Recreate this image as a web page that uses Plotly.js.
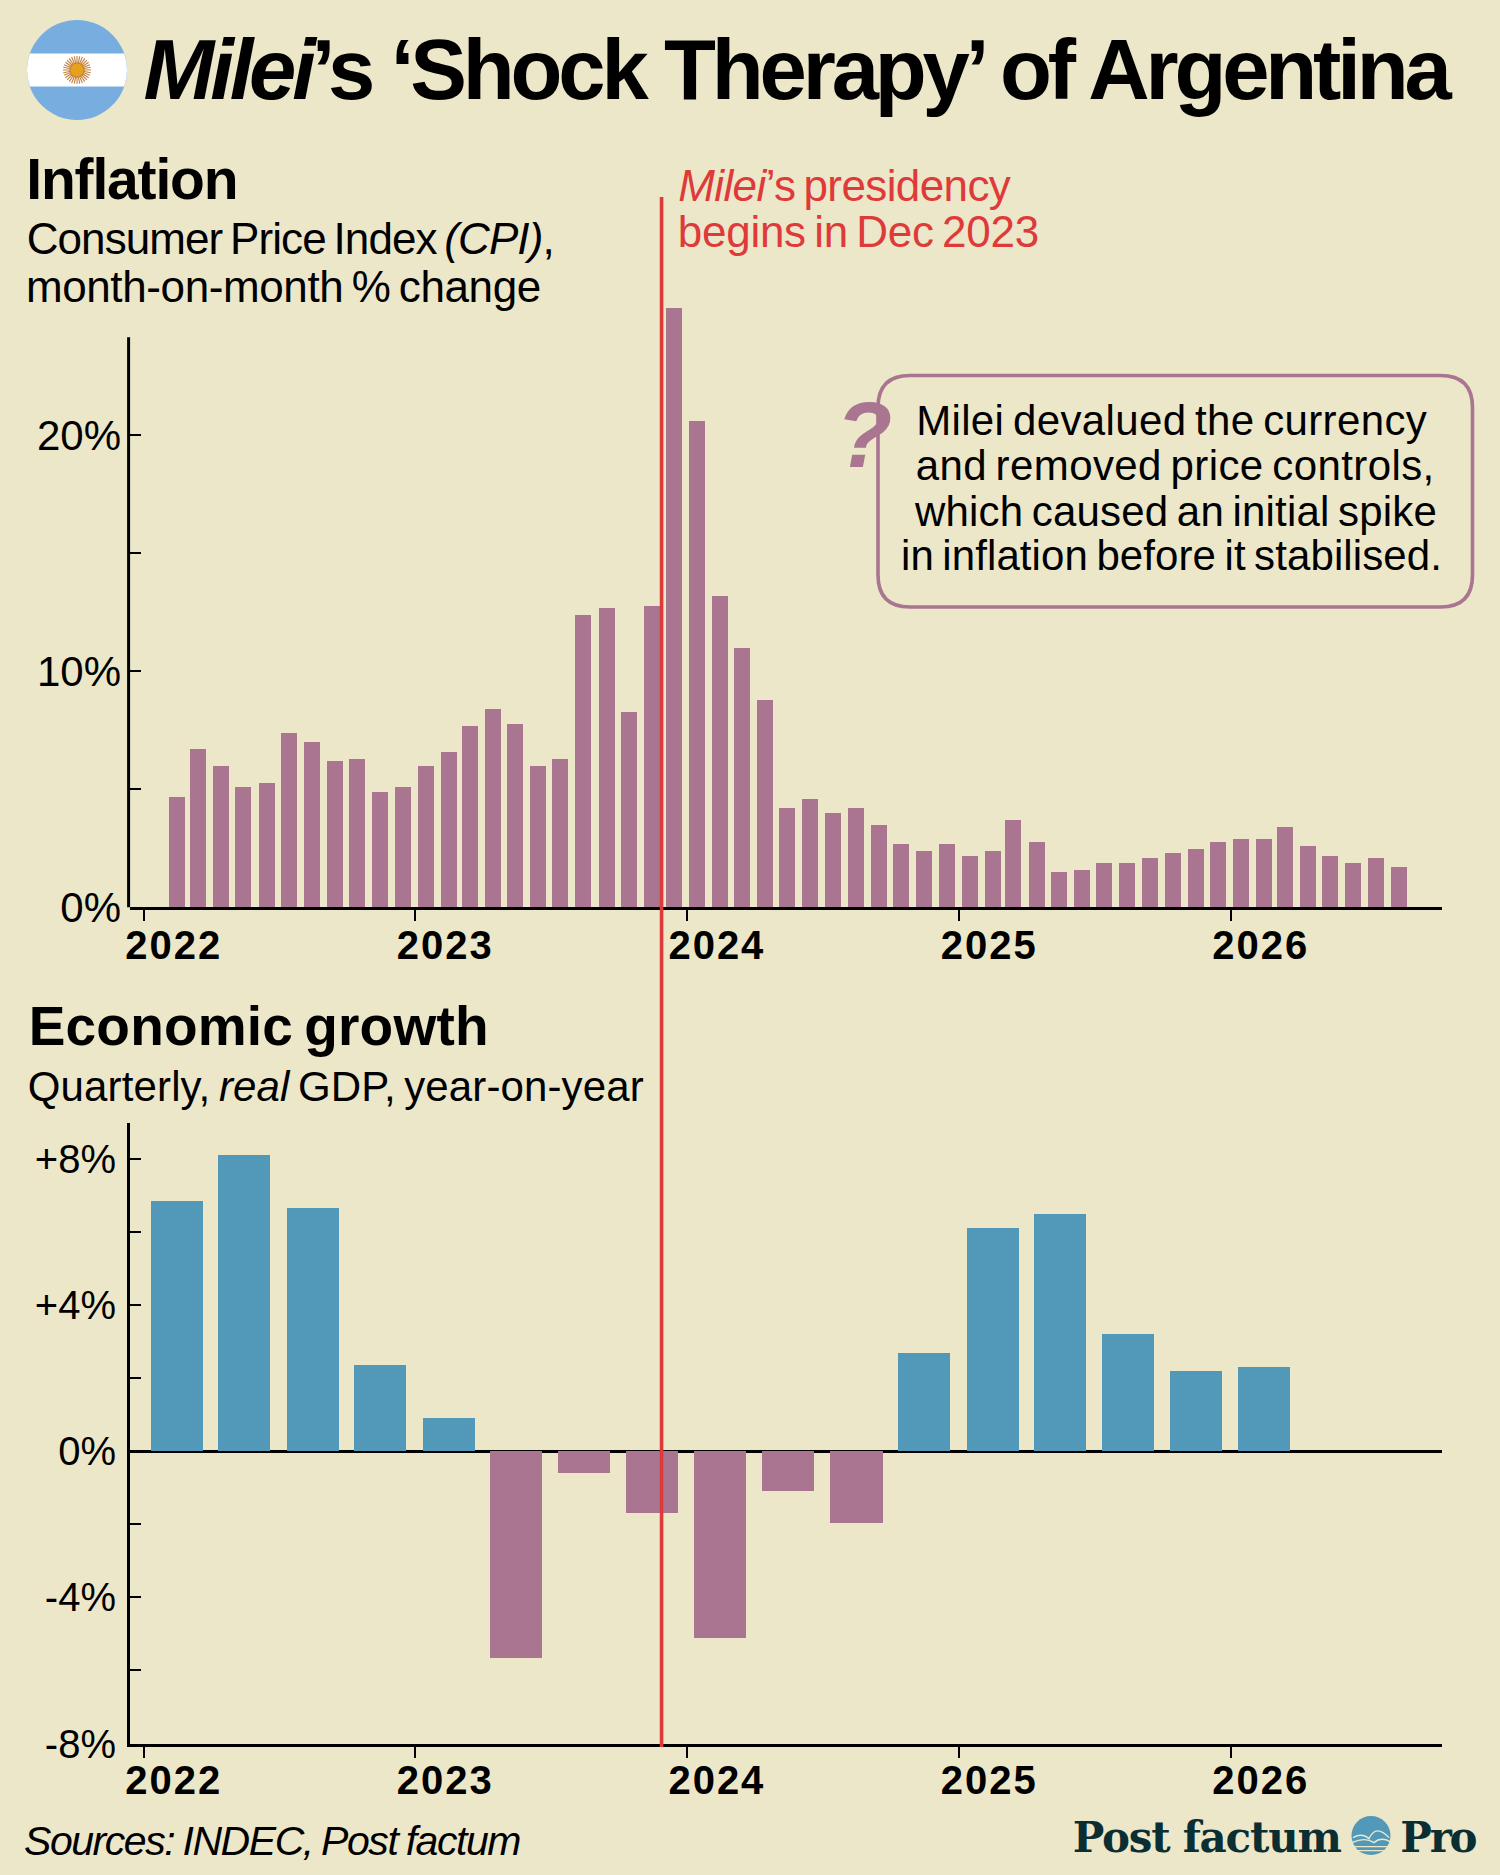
<!DOCTYPE html>
<html>
<head>
<meta charset="utf-8">
<script src="https://cdn.plot.ly/plotly-3.0.1.min.js"></script>
<style>
html,body{margin:0;padding:0;background:#ECE7C9;}
#chart{width:1500px;height:1875px;}
.xtick text,.x2tick text{letter-spacing:2px;}
</style>
</head>
<body>
<div id="chart"></div>
<script>
// ---------- data ----------
const inflationMonths = [
 '2022-02-15','2022-03-15','2022-04-15','2022-05-15','2022-06-15','2022-07-15','2022-08-15','2022-09-15','2022-10-15','2022-11-15','2022-12-15',
 '2023-01-15','2023-02-15','2023-03-15','2023-04-15','2023-05-15','2023-06-15','2023-07-15','2023-08-15','2023-09-15','2023-10-15','2023-11-15','2023-12-15',
 '2024-01-15','2024-02-15','2024-03-15','2024-04-15','2024-05-15','2024-06-15','2024-07-15','2024-08-15','2024-09-15','2024-10-15','2024-11-15','2024-12-15',
 '2025-01-15','2025-02-15','2025-03-15','2025-04-15','2025-05-15','2025-06-15','2025-07-15','2025-08-15','2025-09-15','2025-10-15','2025-11-15','2025-12-15',
 '2026-01-15','2026-02-15','2026-03-15','2026-04-15','2026-05-15','2026-06-15','2026-07-15','2026-08-15'];
const inflationValues = [
 4.7,6.7,6.0,5.1,5.3,7.4,7.0,6.2,6.3,4.9,5.1,
 6.0,6.6,7.7,8.4,7.8,6.0,6.3,12.4,12.7,8.3,12.8,25.4,
 20.6,13.2,11.0,8.8,4.2,4.6,4.0,4.2,3.5,2.7,2.4,2.7,
 2.2,2.4,3.7,2.8,1.5,1.6,1.9,1.9,2.1,2.3,2.5,2.8,
 2.9,2.9,3.4,2.6,2.2,1.9,2.1,1.7];
const gdpQuarters = [
 '2022-02-15','2022-05-16','2022-08-16','2022-11-15',
 '2023-02-15','2023-05-16','2023-08-16','2023-11-15',
 '2024-02-15','2024-05-16','2024-08-16','2024-11-15',
 '2025-02-15','2025-05-16','2025-08-16','2025-11-15',
 '2026-02-15'];
const gdpValues = [6.85,8.1,6.65,2.35,0.9,-5.65,-0.6,-1.7,-5.1,-1.1,-1.95,2.7,6.1,6.5,3.2,2.2,2.3];
const yearTicks = ['2022-01-01','2023-01-01','2024-01-01','2025-01-01','2026-01-01'];
const yearLabels = ['2022','2023','2024','2025','2026'];
const inflationTicks = [0,5,10,15,20];
const inflationTickLabels = ['0%','','10%','','20%'];
const gdpTicks = [-8,-6,-4,-2,0,2,4,6,8];
const gdpTickLabels = ['-8%','','-4%','','0%','','+4%','','+8%'];
const milieStart = '2023-11-28';

// ---------- style ----------
const BG='#ECE7C9', MAUVE='#A97590', BLUE='#5298B8', RED='#DF3A3A', INK='#000000', TEAL='#0B2E33';
const FONT='"Liberation Sans", Arial, sans-serif';
const W=1500,H=1875;
const X=p=>p/W, Y=p=>1-p/H;
const DAY=86400000;

// ---------- text placed by baseline, tracked to a target width ----------
const canvas=document.createElement('canvas').getContext('2d');
const annotations=[]; let css='';
function T(text,x,base,size,o={}){
  const plain=text.replace(/<[^>]+>/g,'');
  const weight=o.bold?'bold':'normal';
  const fam=o.family||FONT;
  let spacing=0, anchor=o.anchor||'left', ax=x;
  const ws=(o.ws===undefined?-0.08:o.ws)*size;
  if(o.width){
    canvas.font=`${weight} ${size}px ${fam}`;
    const spaces=(plain.match(/ /g)||[]).length;
    spacing=(o.width-canvas.measureText(plain).width-ws*spaces)/plain.length;
    // plotly centres the text inside a box measured without tracking, so anchor on the centre
    if(anchor==='left'){ax=x+o.width/2;anchor='center';}
  }
  const idx=annotations.length;
  css+=`.annotation[data-index="${idx}"] text{letter-spacing:${spacing.toFixed(3)}px;word-spacing:${ws.toFixed(2)}px;}\n`;
  annotations.push({
    text:text,xref:'paper',yref:'paper',x:X(ax),y:Y(base+(o.descent||0.212)*size+1),
    xanchor:anchor,yanchor:'bottom',showarrow:false,borderpad:0,
    font:{family:fam,size:size,color:o.color||INK,weight:o.bold?700:400}
  });
}
T('<i>Milei</i>’s ‘Shock Therapy’ of Argentina',140,99,85,{bold:true,width:1312,ws:0});
T('Inflation',26,199,57,{bold:true,width:211,ws:0});
T('Consumer Price Index <i>(CPI)</i>,',26,254,44,{width:527});
T('month-on-month % change',26,302,44,{width:515});
T('<i>Milei</i>’s presidency',678,201,44,{color:RED,width:332});
T('begins in Dec 2023',678,247,44,{color:RED,width:361});
T('Milei devalued the currency',1171.5,435,42,{anchor:'center',width:511});
T('and removed price controls,',1175,480,42,{anchor:'center',width:519});
T('which caused an initial spike',1175,526,42,{anchor:'center',width:522});
T('in inflation before it stabilised.',1171,570,42,{anchor:'center',width:541});
T('<b><i>?</i></b>',835,466,92,{bold:true,color:MAUVE,ws:0});
T('Economic growth',28,1045,55,{bold:true,width:460});
T('Quarterly, <i>real</i> GDP, year-on-year',28,1101.5,42,{width:616});
T('<i>Sources: INDEC, Post factum</i>',24,1855.5,41,{width:496,ws:-0.04});
const SERIF='"DejaVu Serif", serif';
T('Post factum',1072,1852,42,{bold:true,color:TEAL,family:SERIF,width:268,descent:0.236,ws:0});
T('Pro',1400.5,1852,42,{bold:true,color:TEAL,family:SERIF,width:75,descent:0.236,ws:0});
const st=document.createElement('style'); st.textContent=css; document.head.appendChild(st);

// ---------- decoration ----------
function path(pts){ // pixel pairs "x,y" mapped to paper fractions
  return pts.replace(/(-?[\d.]+),(-?[\d.]+)/g,(m,a,b)=>X(+a).toFixed(6)+','+Y(+b).toFixed(6));
}
const shapes=[];
function paperShape(s){return Object.assign({xref:'paper',yref:'paper',layer:'above'},s);}
// flag
const fx=77,fy=70,fr=50;
shapes.push(paperShape({type:'circle',x0:X(fx-fr),x1:X(fx+fr),y0:Y(fy+fr),y1:Y(fy-fr),fillcolor:'#78AEDF',line:{width:0}}));
shapes.push(paperShape({type:'path',path:path(`M ${fx-47.2},53.5 L ${fx+47.2},53.5 Q ${fx+52.8},${fy} ${fx+47.2},86.5 L ${fx-47.2},86.5 Q ${fx-52.8},${fy} ${fx-47.2},53.5 Z`),fillcolor:'#FFFFFF',line:{width:0}}));
let rays='';
for(let i=0;i<32;i++){const a=i*Math.PI/16;
  rays+=`M ${(fx+6*Math.cos(a)).toFixed(2)},${(fy+6*Math.sin(a)).toFixed(2)} L ${(fx+14*Math.cos(a)).toFixed(2)},${(fy+14*Math.sin(a)).toFixed(2)} `;}
shapes.push(paperShape({type:'path',path:path(rays),line:{color:'#C4803E',width:1.1}}));
shapes.push(paperShape({type:'circle',x0:X(fx-7),x1:X(fx+7),y0:Y(fy+7),y1:Y(fy-7),fillcolor:'#E8A11C',line:{color:'#B5782C',width:0.8}}));
// call-out box
const bx0=878,bx1=1472.5,by0=375.5,by1=607,br=32;
shapes.push(paperShape({type:'path',layer:'below',path:path(
 `M ${bx0+br},${by0} L ${bx1-br},${by0} Q ${bx1},${by0} ${bx1},${by0+br} L ${bx1},${by1-br} Q ${bx1},${by1} ${bx1-br},${by1} L ${bx0+br},${by1} Q ${bx0},${by1} ${bx0},${by1-br} L ${bx0},${by0+br} Q ${bx0},${by0} ${bx0+br},${by0} Z`),
 fillcolor:'rgba(0,0,0,0)',line:{color:MAUVE,width:3.6}}));
// inflation y-axis line stops below the tallest bar
shapes.push({type:'line',xref:'paper',yref:'y',x0:X(128.6),x1:X(128.6),y0:-0.06,y1:24.15,line:{color:INK,width:3},layer:'above'});
// presidency marker
shapes.push({type:'line',xref:'x',yref:'paper',x0:milieStart,x1:milieStart,y0:Y(1747),y1:Y(197),line:{color:RED,width:3.6},layer:'above'});
// logo mark
const lx=1371,ly=1835.6,lr=19.5;
shapes.push(paperShape({type:'circle',x0:X(lx-lr),x1:X(lx+lr),y0:Y(ly+lr),y1:Y(ly-lr),fillcolor:BLUE,line:{width:0}}));
shapes.push(paperShape({type:'path',path:path(`M ${lx-18},${ly+2} Q ${lx-9},${ly-3} ${lx-2},${ly+3} Q ${lx+5},${ly-12} ${lx+18},${ly+2}`),line:{color:BG,width:1.4}}));
shapes.push(paperShape({type:'path',path:path(`M ${lx-19},${ly+7} Q ${lx-6},${ly+1} ${lx+3},${ly+7} Q ${lx+10},${ly+1} ${lx+19},${ly+6}`),line:{color:BG,width:1.4}}));
shapes.push(paperShape({type:'path',path:path(`M ${lx-17},${ly+11} L ${lx+17},${ly+11} M ${lx-13},${ly+15} L ${lx+13},${ly+15}`),line:{color:BG,width:1.4}}));

// ---------- traces ----------
const traces=[
 {type:'bar',x:inflationMonths,y:inflationValues,xaxis:'x',yaxis:'y',width:16/271.5*365.25*DAY,
  marker:{color:MAUVE,line:{width:0}},hoverinfo:'skip',showlegend:false},
 {type:'bar',x:gdpQuarters,y:gdpValues,xaxis:'x2',yaxis:'y2',width:52/271.5*365.25*DAY,
  marker:{color:gdpValues.map(v=>v>=0?BLUE:MAUVE),line:{width:0}},hoverinfo:'skip',showlegend:false}
];
const xCommon={type:'date',range:['2021-12-13 12:00','2026-10-12'],tickmode:'array',tickvals:yearTicks,ticktext:yearLabels,
  ticks:'outside',ticklen:11,tickwidth:2,tickcolor:INK,showline:true,linecolor:INK,linewidth:3,showgrid:false,zeroline:false,
  ticklabelshift:30,tickfont:{family:FONT,size:40,color:INK,weight:700}};
const yCommon={tickmode:'array',ticks:'inside',ticklen:11,tickwidth:2,tickcolor:INK,linecolor:INK,linewidth:3,showgrid:false};
const layout={
 width:W,height:H,margin:{l:0,r:0,t:0,b:0},paper_bgcolor:BG,plot_bgcolor:BG,showlegend:false,bargap:0,
 xaxis:Object.assign({},xCommon,{domain:[X(130),X(1442)],anchor:'y',ticklabelstandoff:-10}),
 yaxis:Object.assign({},yCommon,{domain:[Y(907.2),Y(907.2-26*23.6)],anchor:'x',range:[0,26],showline:false,tickvals:inflationTicks,ticktext:inflationTickLabels,zeroline:false,
   ticklabelstandoff:8,tickfont:{family:FONT,size:42,color:INK}}),
 xaxis2:Object.assign({},xCommon,{domain:[X(130),X(1442)],anchor:'y2',ticklabelstandoff:-12}),
 yaxis2:Object.assign({},yCommon,{domain:[Y(1743.5),Y(1122.8)],anchor:'x2',range:[-8,8.98],showline:true,tickvals:gdpTicks,ticktext:gdpTickLabels,zeroline:true,zerolinecolor:INK,zerolinewidth:3,
   ticklabelstandoff:3,tickfont:{family:FONT,size:40,color:INK}}),
 annotations:annotations,shapes:shapes
};
Plotly.newPlot('chart',traces,layout,{displayModeBar:false,responsive:false});
</script>
</body>
</html>
